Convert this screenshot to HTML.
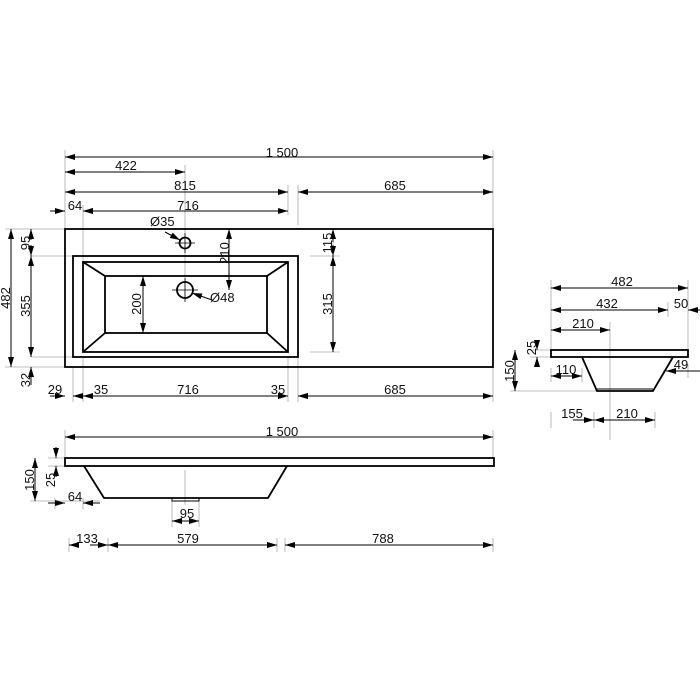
<!DOCTYPE html>
<html><head><style>body{margin:0;background:#fff}svg{display:block}text{font-family:"Liberation Sans",Arial,sans-serif;font-size:13px;fill:#111}</style></head><body>
<svg width="700" height="700" viewBox="0 0 700 700" xmlns="http://www.w3.org/2000/svg">
<defs><marker id="a" viewBox="0 0 10 6" refX="10" refY="3" markerWidth="10" markerHeight="6" markerUnits="userSpaceOnUse" orient="auto-start-reverse"><path d="M0,0L10,3L0,6z" fill="#000"/></marker></defs>
<g stroke="#aaa" stroke-width="0.8" fill="none">
<path d="M65,150V229M493,150V229M185,165V300M288,185V215M298,185V225M83,205V262M65,229H5M65,367H5M31,256H73M31,357H73M229,229V290M333,229V256M310,256H340M310,352H340M73,367V402M83,357V402M288,357V402M298,357V402M493,367V402"/>
<path d="M65,430V458M493,430V458M48,458H65M48,466H65M30,501H100M55,498V509M83,498V509M172,501V527M199,501V527M69,538V552M108,538V552M277,538V552M285,538V552M493,538V552M185,470V505"/>
<path d="M551,280V357M688,280V357M668,302V317M610,322V440M530,350H551M530,357H551M510,391H597M582,368V382M551,368V382M551,412V428M594,412V428M655,412V428M688,364V378"/>
</g>
<g stroke="#000" stroke-width="1" fill="none" marker-start="url(#a)" marker-end="url(#a)">
<path d="M65,157H493"/><path d="M65,172H185"/><path d="M65,192H288"/><path d="M298,192H493"/>
<path d="M83,211H288"/><path d="M11,229V367"/><path d="M31,256V357"/>
<path d="M229,229V290"/><path d="M143,276V333"/><path d="M333,256V352"/>
<path d="M298,396H493"/><path d="M83,396H288"/>
<path d="M65,437H493"/><path d="M35,458V501"/><path d="M108,545H277"/><path d="M285,545H493"/><path d="M172,521H199"/>
<path d="M551,288H688"/><path d="M551,310H668"/><path d="M551,330H610"/><path d="M515,350V391"/><path d="M551,376H582"/><path d="M594,420H655"/>
</g>
<g stroke="#000" stroke-width="1" fill="none" marker-end="url(#a)">
<path d="M50,211H65"/><path d="M100,211H83"/><path d="M31,240V229"/><path d="M31,245V256"/><path d="M333,242V229"/><path d="M333,245V256"/>
<path d="M31,385V367"/><path d="M50,396H65"/><path d="M92,396H73"/><path d="M270,396H288"/><path d="M316,396H298"/>
<path d="M56,447V458"/><path d="M56,477V466"/><path d="M48,503H65"/><path d="M100,503H83"/><path d="M72,545H69"/><path d="M90,545H108"/><path d="M268,545H277"/>
<path d="M537,340V350"/><path d="M537,367V357"/><path d="M700,310H688"/><path d="M700,371H666"/><path d="M573,420H594"/>
<path d="M165,232L180,240"/><path d="M212,300L192,293"/>
</g>
<g stroke="#000" stroke-width="1.8" fill="none">
<rect x="65" y="229" width="428" height="138"/>
<rect x="73" y="256" width="225" height="101"/>
<rect x="83" y="262" width="205" height="90"/>
<rect x="105" y="276" width="162" height="57"/>
<path d="M83,262L105,276M288,262L267,276M83,352L105,333M288,352L267,333"/>
<circle cx="185" cy="243" r="5.5"/><circle cx="185" cy="290" r="8"/>
<rect x="65" y="458" width="429" height="8"/>
<path d="M84,466L104,498H268L287,466"/><rect x="172" y="498" width="27" height="3" stroke-width="1"/>
<rect x="551" y="350" width="137" height="7"/>
<path d="M582,357L597,391H653L673,357"/><path d="M597,389H653" stroke-width="1"/>
</g>
<g stroke="#000" stroke-width="0.8"><path d="M175,243H195M185,233V253M172,290H198M185,278V302"/></g>
<text x="282" y="157" text-anchor="middle">1 500</text>
<text x="126" y="170" text-anchor="middle">422</text>
<text x="185" y="190" text-anchor="middle">815</text>
<text x="395" y="190" text-anchor="middle">685</text>
<text x="75" y="210" text-anchor="middle">64</text>
<text x="188" y="210" text-anchor="middle">716</text>
<text x="150" y="226" font-size="9">Ø35</text>
<text x="210" y="302" font-size="9">Ø48</text>
<text transform="translate(10,298) rotate(-90)" text-anchor="middle">482</text>
<text transform="translate(30,243) rotate(-90)" text-anchor="middle">95</text>
<text transform="translate(30,306) rotate(-90)" text-anchor="middle">355</text>
<text transform="translate(30,380) rotate(-90)" text-anchor="middle">32</text>
<text transform="translate(229,253) rotate(-90)" text-anchor="middle">210</text>
<text transform="translate(141,304) rotate(-90)" text-anchor="middle">200</text>
<text transform="translate(332,243) rotate(-90)" text-anchor="middle">115</text>
<text transform="translate(332,304) rotate(-90)" text-anchor="middle">315</text>
<text x="55" y="394" text-anchor="middle">29</text>
<text x="101" y="394" text-anchor="middle">35</text>
<text x="188" y="394" text-anchor="middle">716</text>
<text x="278" y="394" text-anchor="middle">35</text>
<text x="395" y="394" text-anchor="middle">685</text>
<text x="282" y="436" text-anchor="middle">1 500</text>
<text transform="translate(34,480) rotate(-90)" text-anchor="middle">150</text>
<text transform="translate(55,480) rotate(-90)" text-anchor="middle">25</text>
<text x="75" y="501" text-anchor="middle">64</text>
<text x="187" y="518" text-anchor="middle">95</text>
<text x="87" y="543" text-anchor="middle">133</text>
<text x="188" y="543" text-anchor="middle">579</text>
<text x="383" y="543" text-anchor="middle">788</text>
<text x="622" y="286" text-anchor="middle">482</text>
<text x="607" y="308" text-anchor="middle">432</text>
<text x="681" y="308" text-anchor="middle">50</text>
<text x="583" y="328" text-anchor="middle">210</text>
<text transform="translate(514,371) rotate(-90)" text-anchor="middle">150</text>
<text transform="translate(536,348) rotate(-90)" text-anchor="middle">25</text>
<text x="566" y="374" text-anchor="middle">110</text>
<text x="681" y="369" text-anchor="middle">49</text>
<text x="572" y="418" text-anchor="middle">155</text>
<text x="627" y="418" text-anchor="middle">210</text>
</svg>
</body></html>
